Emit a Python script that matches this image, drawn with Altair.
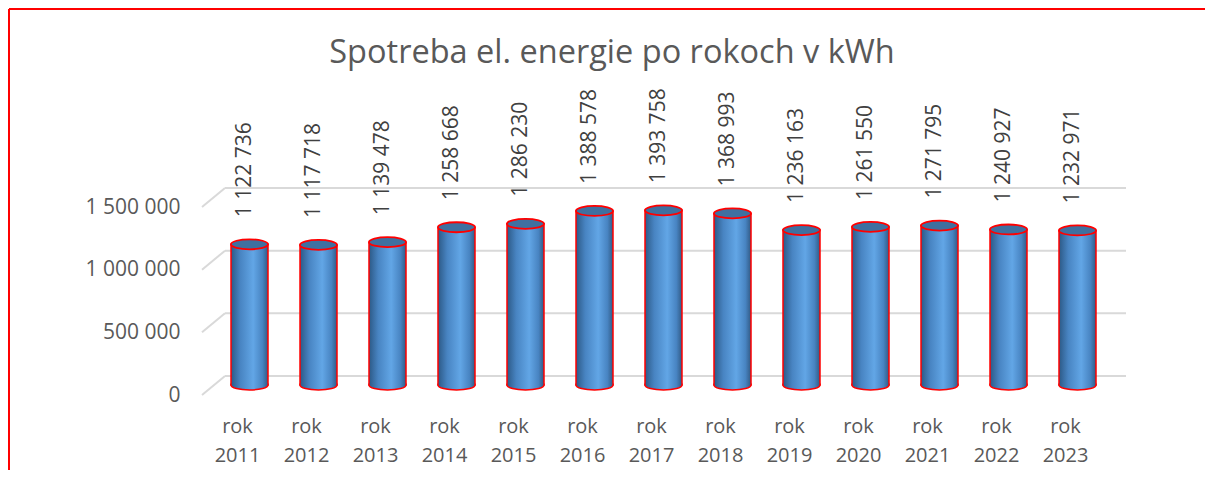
import altair as alt
import pandas as pd

years = ["rok 2011", "rok 2012", "rok 2013", "rok 2014", "rok 2015", "rok 2016", "rok 2017",
         "rok 2018", "rok 2019", "rok 2020", "rok 2021", "rok 2022", "rok 2023"]
values = [1122736, 1117718, 1139478, 1258668, 1286230, 1388578, 1393758,
          1368993, 1236163, 1261550, 1271795, 1240927, 1232971]
labels = ["1 122 736", "1 117 718", "1 139 478", "1 258 668", "1 286 230", "1 388 578", "1 393 758",
          "1 368 993", "1 236 163", "1 261 550", "1 271 795", "1 240 927", "1 232 971"]
grid_values = [0, 500000, 1000000, 1500000]
title_text = "Spotreba el. energie po rokoch v kWh"

FONT = "Open Sans"
TXT = "#595959"
GRID = "#d9d9d9"
W, H = 897, 188

df = pd.DataFrame({"year": years, "value": values, "label": labels})
gdf = pd.DataFrame({"g": grid_values})

x = alt.X("year:N", sort=years, scale=alt.Scale(paddingInner=0, paddingOuter=0),
          axis=alt.Axis(title=None, labelExpr="split(datum.label, ' ')", labelAngle=0,
                        labelFont=FONT, labelFontSize=20, labelColor=TXT, labelLineHeight=29,
                        labelPadding=31, labelOffset=-12, ticks=False, domain=False, grid=False,
                        labelBaseline="top"))
yscale = alt.Scale(domain=[0, 1500000], nice=False)
yaxis = alt.Axis(title=None, grid=False, ticks=False, domain=False,
                 values=grid_values, labelFont=FONT, labelFontSize=21,
                 labelColor=TXT, labelPadding=35, labelOffset=10,
                 labelExpr="replace(format(datum.value, ',d'), /,/g, ' ')")

grad = alt.LinearGradient(gradient="linear", x1=0, x2=1, y1=0, y2=0,
                          stops=[alt.GradientStop(offset=0, color="#2c5986"),
                                 alt.GradientStop(offset=0.25, color="#4884c2"),
                                 alt.GradientStop(offset=0.6, color="#62a6e6"),
                                 alt.GradientStop(offset=0.85, color="#4884c2"),
                                 alt.GradientStop(offset=1, color="#315a84")])

base = alt.Chart(df)

grid_h = alt.Chart(gdf).mark_rule(color=GRID, strokeWidth=2, yOffset=-9, y2Offset=-9).encode(
    y=alt.Y("g:Q", scale=yscale, axis=yaxis), y2="g:Q",
    x=alt.value(10), x2=alt.value(911))
grid_s = alt.Chart(gdf).mark_rule(color=GRID, strokeWidth=2, yOffset=10, y2Offset=-9).encode(
    y=alt.Y("g:Q", scale=yscale, axis=yaxis), y2="g:Q",
    x=alt.value(-13), x2=alt.value(10))

bars = base.mark_bar(size=37, fill=grad, stroke="#ff0000", strokeWidth=1.5).encode(
    x=x, y=alt.Y("value:Q", scale=yscale, axis=yaxis))

bottom = base.mark_point(shape="M -1 -0.08 L -1 0 A 1 0.27 0 0 0 1 0 L 1 -0.08",
                         size=1369, filled=True, fill=grad, stroke="#ff0000", strokeWidth=1.5,
                         opacity=1).encode(x=x, y=alt.Y("zero:Q", scale=yscale, axis=yaxis)).transform_calculate(zero="0")

top = base.mark_point(shape="M -1 0 A 1 0.27 0 1 0 1 0 A 1 0.27 0 1 0 -1 0 Z",
                      size=1369, filled=True, fill="#3f70a0", stroke="#ff0000", strokeWidth=1.8,
                      opacity=1).encode(x=x, y=alt.Y("value:Q", scale=yscale, axis=yaxis))

text = base.mark_text(angle=270, align="left", baseline="middle", dx=27, dy=-5,
                      font=FONT, fontSize=21, color="#404040").encode(
    x=x, y=alt.Y("value:Q", scale=yscale, axis=yaxis), text="label:N")

title = alt.Chart(pd.DataFrame({"t": [title_text]})).mark_text(
    font=FONT, fontSize=32.5, color=TXT, baseline="middle", align="center").encode(
    x=alt.value(397), y=alt.value(-144), text="t:N")

border_v = alt.Chart(pd.DataFrame({"a": [0]})).mark_rule(color="#ff0000", strokeWidth=2).encode(
    x=alt.value(-206), y=alt.value(-188), y2=alt.value(H + 100))
border_h = alt.Chart(pd.DataFrame({"a": [0]})).mark_rule(color="#ff0000", strokeWidth=2).encode(
    y=alt.value(-188), x=alt.value(-206), x2=alt.value(W + 100))

chart = alt.layer(grid_h, grid_s, bars, bottom, top, text, title, border_v, border_h).properties(
    width=W, height=H,
    autosize="none",
    background="white",
    padding={"left": 207, "top": 189, "right": 93, "bottom": 85},
).configure_view(strokeWidth=0, stroke="transparent").configure_axis(
    domain=False, ticks=False, grid=False)

chart.save("out.html", embed_options={"renderer": "svg", "actions": False})
